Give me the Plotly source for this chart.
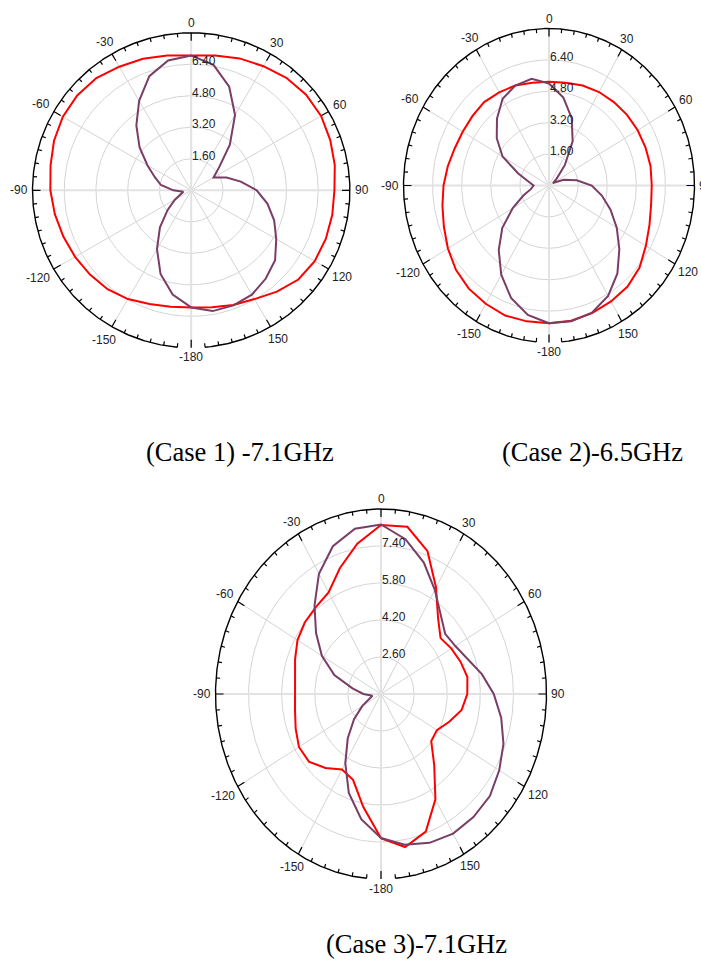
import numpy as np
import plotly.graph_objects as go

W, H = 701, 965

# Measurement angles (degrees, 0 = top, clockwise positive)
angles = list(range(-180, 180, 10))

# Case 1 at 7.1 GHz
c1_red = [5.95, 6.00, 6.15, 6.38, 6.56, 6.66, 6.76, 6.86, 6.98, 7.10, 7.20, 7.36,
          7.47, 7.50, 7.44, 7.25, 7.11, 6.95, 6.85, 6.95, 7.13, 7.28, 7.46, 7.56,
          7.56, 7.46, 7.35, 7.22, 7.22, 7.22, 7.19, 7.05, 6.72, 6.38, 6.20, 6.03]
c1_purple = [5.95, 5.38, 4.52, 3.45, 2.45, 1.55, 0.95, 0.55, 0.40, 0.90, 1.55, 1.95,
             2.55, 3.40, 4.30, 5.25, 6.17, 6.70, 6.84, 6.47, 5.60, 4.42, 3.03, 1.85,
             1.30, 1.90, 2.54, 3.30, 3.90, 4.45, 4.95, 5.52, 5.85, 6.12, 6.22, 6.23]

# Case 2 at 6.5 GHz
c2_red = [7.02, 7.03, 7.05, 6.96, 6.86, 6.68, 6.42, 6.15, 5.95, 5.80, 5.65, 5.52,
          5.48, 5.50, 5.55, 5.48, 5.42, 5.32, 5.29, 5.32, 5.42, 5.50, 5.55, 5.60,
          5.63, 5.65, 5.67, 5.65, 5.70, 5.88, 6.15, 6.50, 6.72, 6.82, 6.92, 7.00]
c2_purple = [7.02, 6.70, 6.10, 5.25, 4.30, 3.35, 2.30, 1.50, 1.00, 0.85, 1.15, 1.80,
             2.95, 3.75, 4.45, 5.10, 5.42, 5.52, 5.20, 4.55, 3.65, 2.60, 1.35, 0.55,
             0.25, 0.85, 1.55, 2.35, 2.95, 3.60, 4.30, 5.05, 5.85, 6.50, 6.90, 7.03]

# Case 3 at 7.1 GHz
c3_red = [7.24, 5.95, 4.95, 4.77, 5.18, 5.55, 5.58, 5.39, 5.22, 5.15, 5.20, 5.42,
          5.66, 5.81, 5.90, 6.07, 6.80, 7.60, 8.31, 8.34, 7.57, 6.32, 5.29, 4.76,
          4.93, 5.09, 5.24, 5.17, 4.96, 4.51, 4.12, 4.17, 5.00, 6.26, 7.33, 7.72]
c3_purple = [7.23, 6.50, 5.55, 4.45, 3.50, 2.70, 2.05, 1.60, 1.42, 1.85, 2.40, 3.40,
             4.30, 5.10, 6.00, 7.00, 7.80, 8.26, 8.33, 7.80, 7.05, 6.20, 5.50, 5.05,
             5.15, 5.45, 5.95, 6.45, 6.90, 7.30, 7.60, 7.87, 7.95, 7.97, 7.85, 7.62]

# Radial grid values and angular tick labels
c12_rticks = [1.6, 3.2, 4.8, 6.4]
c3_rticks = [2.6, 4.2, 5.8, 7.4]
angle_ticks = [0, 30, 60, 90, 120, 150, 180, -150, -120, -90, -60, -30]
angle_labels = ["0", "30", "60", "90", "120", "150", "-180", "-150", "-120", "-90", "-60", "-30"]

captions = ["(Case 1) -7.1GHz", "(Case 2)-6.5GHz", "(Case 3)-7.1GHz"]

RED = "#ff0000"
PURPLE = "#7a3d66"
GRID = "#d4d4d4"
AXIS_GRID = "#e2e2e2"
TEXT = "#222222"
LABEL_FONT = dict(family="Liberation Sans, Arial, sans-serif", size=12, color=TEXT)
CAPTION_FONT = dict(family="Liberation Serif, Times New Roman, serif", size=26.5, color="black")

# Panel geometry in page pixels: centre, horizontal/vertical radius of the outer ring
panels = [
    dict(cx=191.2, cy=190.3, rx=158.7, ry=157.5, rmin=0.0, rmax=8.0,
         rticks=c12_rticks, red=c1_red, purple=c1_purple, cap=captions[0], cap_xy=(240, 452)),
    dict(cx=549.0, cy=185.5, rx=145.5, ry=157.0, rmin=0.0, rmax=8.0,
         rticks=c12_rticks, red=c2_red, purple=c2_purple, cap=captions[1], cap_xy=(592, 452)),
    dict(cx=381.0, cy=694.0, rx=165.5, ry=185.0, rmin=1.0, rmax=9.0,
         rticks=c3_rticks, red=c3_red, purple=c3_purple, cap=captions[2], cap_xy=(416.5, 944)),
]

fig = go.Figure()
annotations = []
layout_axes = {}
PAD = 1.02


def polar_xy(r_vals, deg_vals, rmin):
    t = np.radians(np.asarray(deg_vals, dtype=float))
    u = np.clip(np.asarray(r_vals, dtype=float) - rmin, 0, None)
    return u * np.sin(t), u * np.cos(t)


def joined(segments):
    xs, ys = [], []
    for sx, sy in segments:
        xs.extend(list(sx) + [None])
        ys.extend(list(sy) + [None])
    return xs, ys


for i, p in enumerate(panels):
    suffix = "" if i == 0 else str(i + 1)
    xa, ya = "x" + suffix, "y" + suffix
    span = p["rmax"] - p["rmin"]
    rx, ry = p["rx"], p["ry"]

    layout_axes["xaxis" + suffix] = dict(
        domain=[(p["cx"] - PAD * rx) / W, (p["cx"] + PAD * rx) / W],
        range=[-PAD * span, PAD * span], visible=False, fixedrange=True, anchor=ya)
    layout_axes["yaxis" + suffix] = dict(
        domain=[1 - (p["cy"] + PAD * ry) / H, 1 - (p["cy"] - PAD * ry) / H],
        range=[-PAD * span, PAD * span], visible=False, fixedrange=True, anchor=xa)

    full = np.linspace(0, 360, 361)

    # concentric grid rings
    segs = [polar_xy(np.full_like(full, v), full, p["rmin"]) for v in p["rticks"]]
    gx, gy = joined(segs)
    fig.add_trace(go.Scatter(x=gx, y=gy, mode="lines", xaxis=xa, yaxis=ya,
                             line=dict(color=GRID, width=1), hoverinfo="skip"))

    # angular spokes
    minor_sp = [a for a in range(0, 360, 30) if a % 90 != 0]
    major_sp = [0, 90, 180, 270]
    for group, col, wd in ((minor_sp, GRID, 1), (major_sp, AXIS_GRID, 2)):
        segs = [polar_xy([p["rmin"], p["rmax"]], [a, a], p["rmin"]) for a in group]
        sx, sy = joined(segs)
        fig.add_trace(go.Scatter(x=sx, y=sy, mode="lines", xaxis=xa, yaxis=ya,
                                 line=dict(color=col, width=wd), hoverinfo="skip"))

    # outer ring, open around 180 degrees
    ring_deg = np.arange(-175, 175.01, 0.5)
    ox, oy = polar_xy(np.full_like(ring_deg, p["rmax"]), ring_deg, p["rmin"])
    fig.add_trace(go.Scatter(x=ox, y=oy, mode="lines", xaxis=xa, yaxis=ya,
                             line=dict(color="black", width=1.4), hoverinfo="skip"))

    # tick marks on the outer ring, pointing inwards
    segs = []
    for a in list(range(-175, 180, 5)) + [180]:
        t = np.radians(a)
        px, py = rx * np.sin(t), ry * np.cos(t)
        nrm = np.hypot(px, py)
        ln = 8.0 if a % 30 == 0 else 4.0
        x0, y0 = span * np.sin(t), span * np.cos(t)
        x1 = x0 - ln * span * np.sin(t) / nrm
        y1 = y0 - ln * span * np.cos(t) / nrm
        segs.append(([x0, x1], [y0, y1]))
    tx, ty = joined(segs)
    fig.add_trace(go.Scatter(x=tx, y=ty, mode="lines", xaxis=xa, yaxis=ya,
                             line=dict(color="black", width=1.2), hoverinfo="skip"))

    # pattern curves
    th = angles + [angles[0]]
    for vals, col in ((p["red"], RED), (p["purple"], PURPLE)):
        cx_, cy_ = polar_xy(vals + [vals[0]], th, p["rmin"])
        fig.add_trace(go.Scatter(x=cx_, y=cy_, mode="lines", xaxis=xa, yaxis=ya,
                                 line=dict(color=col, width=2), hoverinfo="skip"))

    # radial value labels along the 0 degree spoke
    for v in p["rticks"]:
        annotations.append(dict(x=0, y=v - p["rmin"], xref=xa, yref=ya, text=f"{v:.2f}",
                                showarrow=False, xanchor="left", yanchor="middle",
                                xshift=-1, yshift=3, font=LABEL_FONT))

    # angle labels around the ring
    for a, lab in zip(angle_ticks, angle_labels):
        t = np.radians(a)
        px, py = rx * np.sin(t), ry * np.cos(t)
        nrm = np.hypot(px, py)
        nx, ny = px / nrm, py / nrm
        w = LABEL_FONT["size"] * (0.556 * sum(ch.isdigit() for ch in lab) + 0.333 * lab.count("-"))
        d = 5 + abs(nx) * w / 2 + abs(ny) * 9 / 2
        annotations.append(dict(x=span * np.sin(t), y=span * np.cos(t), xref=xa, yref=ya,
                                text=lab, showarrow=False, xanchor="center", yanchor="middle",
                                xshift=d * nx, yshift=d * ny, font=LABEL_FONT))

    # caption below each panel
    annotations.append(dict(x=p["cap_xy"][0] / W, y=1 - p["cap_xy"][1] / H, xref="paper", yref="paper",
                            text=p["cap"], showarrow=False, xanchor="center", yanchor="middle",
                            font=CAPTION_FONT))

fig.update_layout(
    width=W, height=H,
    margin=dict(l=0, r=0, t=0, b=0),
    paper_bgcolor="white", plot_bgcolor="rgba(0,0,0,0)",
    showlegend=False, hovermode=False,
    annotations=annotations,
    **layout_axes,
)

fig.write_html("out.html")
